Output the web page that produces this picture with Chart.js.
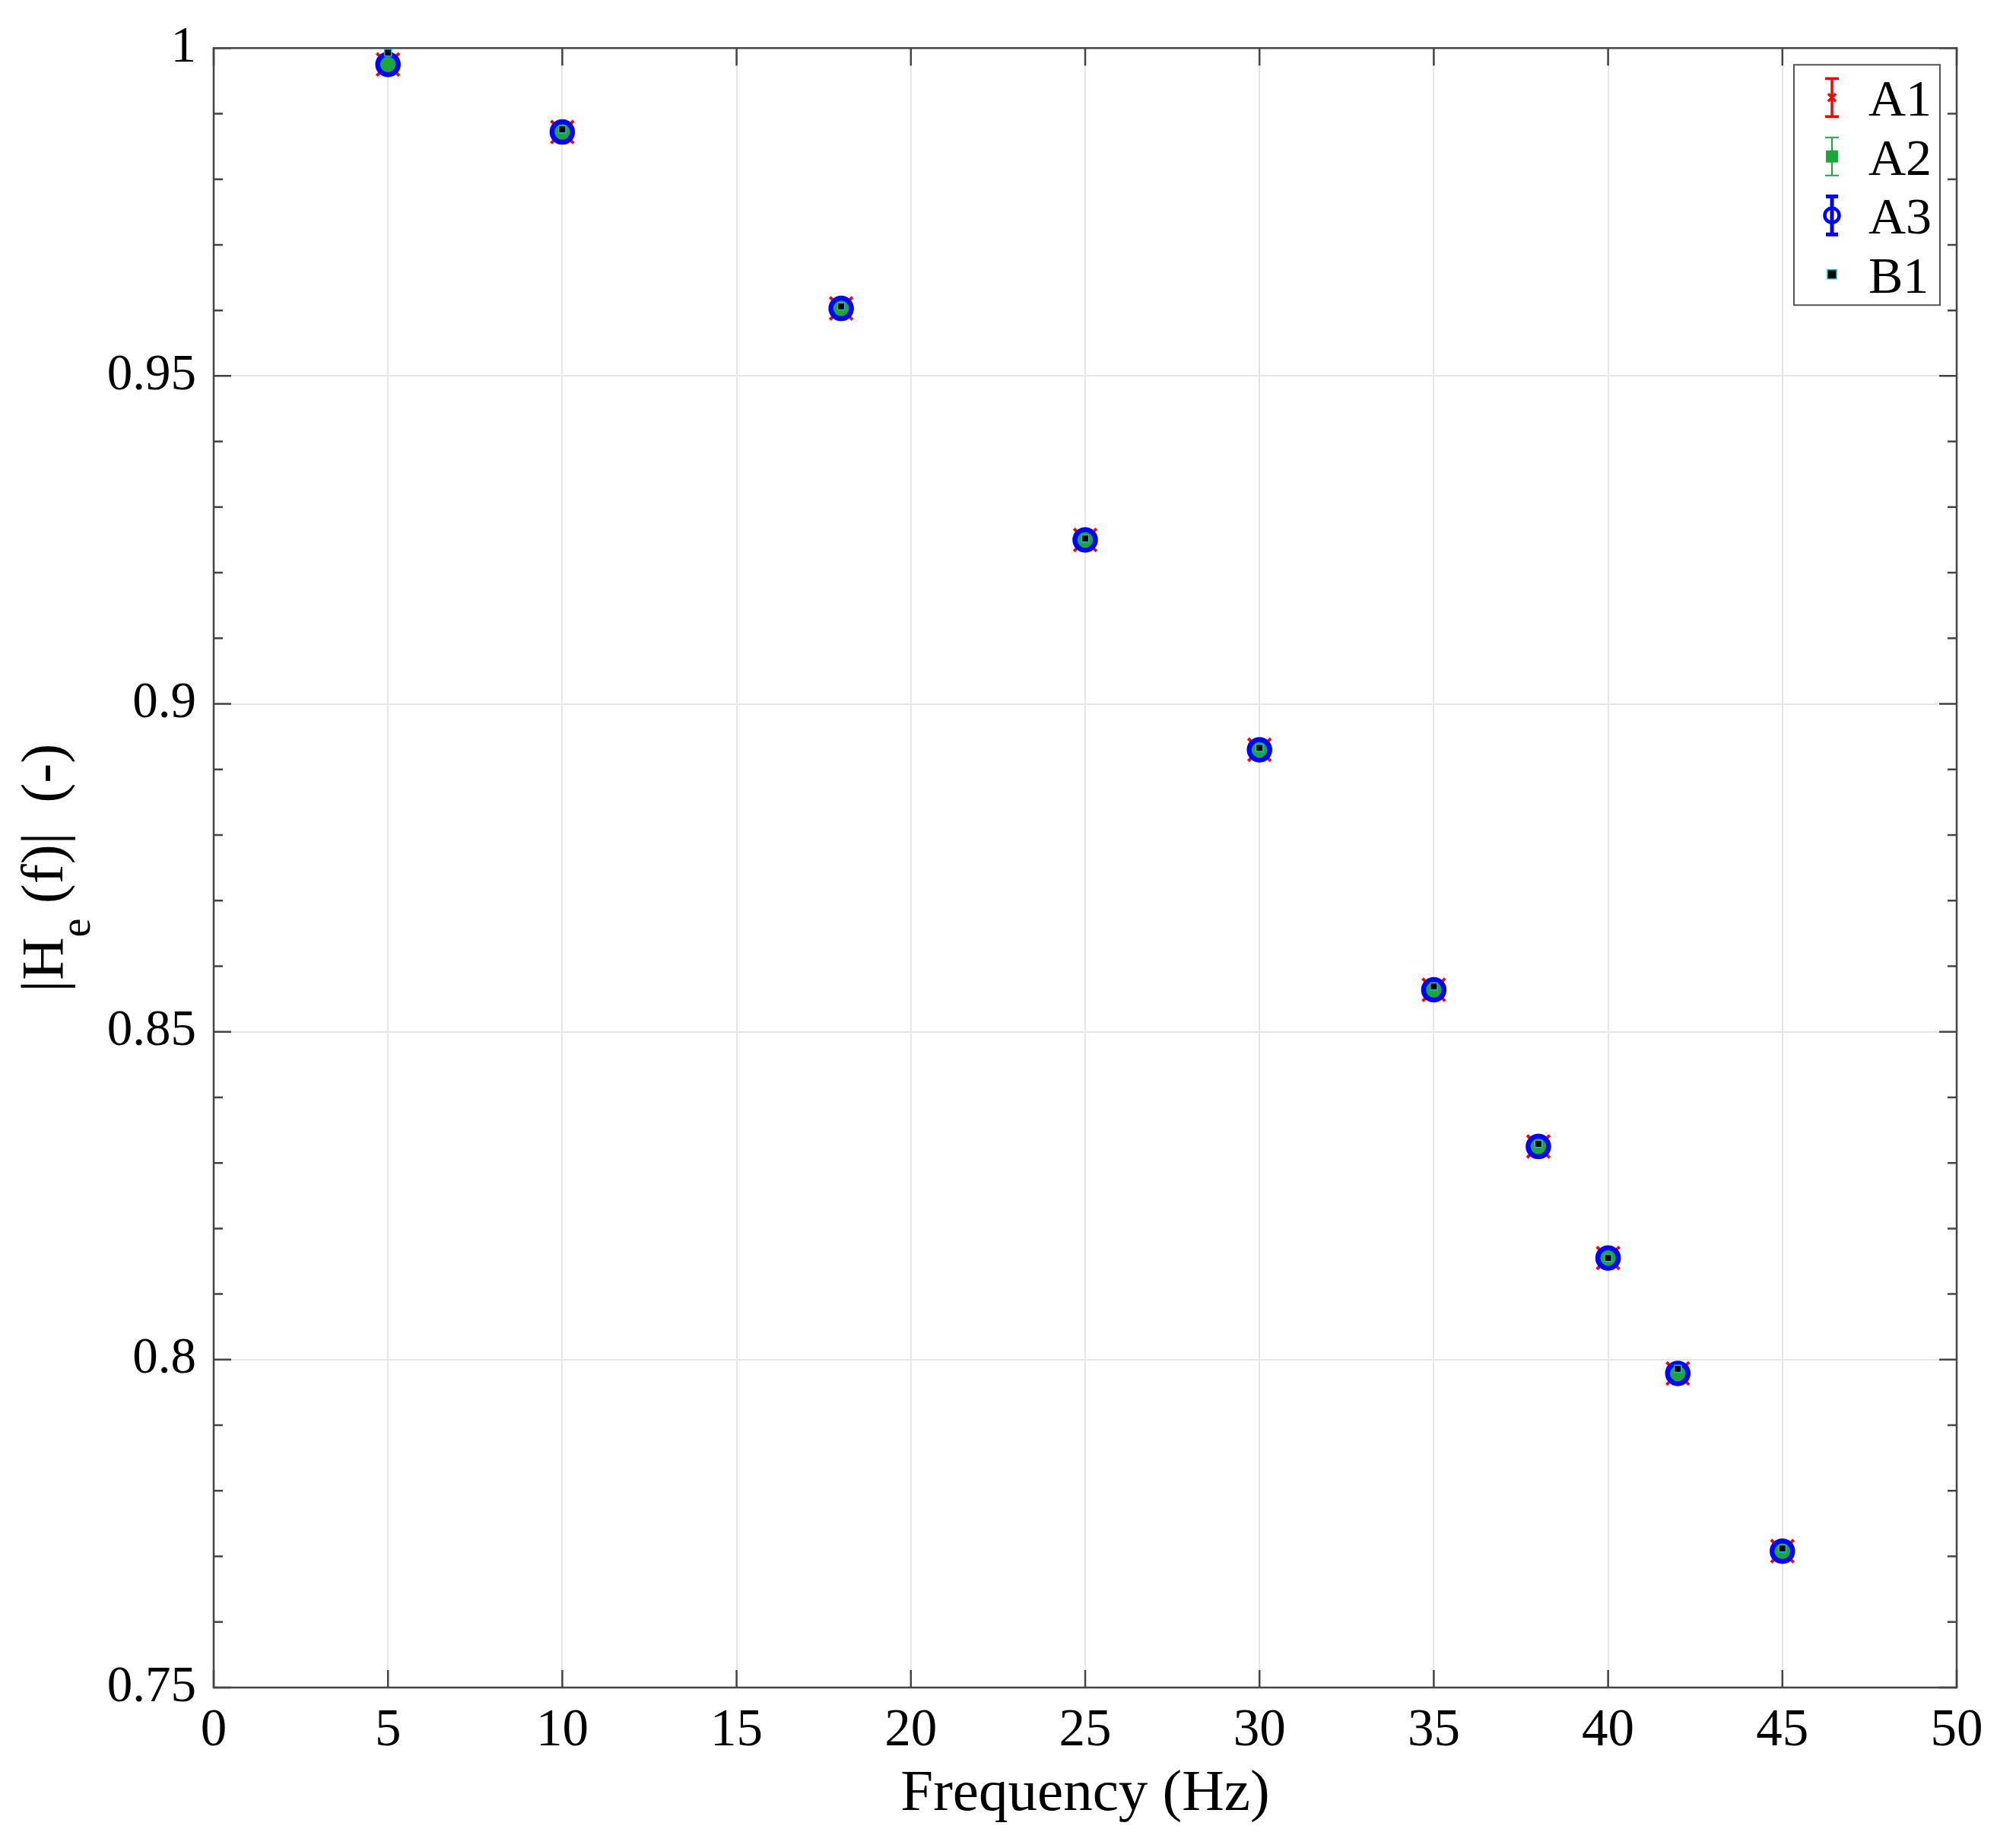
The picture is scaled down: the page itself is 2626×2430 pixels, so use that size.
<!DOCTYPE html>
<html>
<head>
<meta charset="utf-8">
<title>|He(f)| vs frequency</title>
<script src="https://cdn.jsdelivr.net/npm/chart.js@4.4.1/dist/chart.umd.min.js"></script>
<style>
  html, body { margin: 0; padding: 0; background: #fff; }
  #wrap { width: 2626px; height: 2430px; }
</style>
</head>
<body>
<div id="wrap"><canvas id="chart" width="2626" height="2430"></canvas></div>
<script>
// values
const freqs = [5, 10, 18, 25, 30, 35, 38, 40, 42, 45];
const a1 = [0.9975, 0.9872, 0.9603, 0.9250, 0.8930, 0.8564, 0.8325, 0.8155, 0.7979, 0.7708];
const a2 = [0.9975, 0.9872, 0.9603, 0.9250, 0.8930, 0.8564, 0.8325, 0.8155, 0.7979, 0.7708];
const a3 = [0.9975, 0.9872, 0.9603, 0.9250, 0.8930, 0.8564, 0.8325, 0.8155, 0.7979, 0.7708];
const b1 = [0.9993, 0.9876, 0.9606, 0.9252, 0.8933, 0.8569, 0.8329, 0.8155, 0.7986, 0.7712];

const xTicks = [0, 5, 10, 15, 20, 25, 30, 35, 40, 45, 50];
const yTicks = [0.75, 0.8, 0.85, 0.9, 0.95, 1];
const yTickLabels = ["0.75", "0.8", "0.85", "0.9", "0.95", "1"];

const FONT = "'Liberation Serif', 'Times New Roman', serif";
const AXIS = "#444";

function pts(ys) {
  return freqs.map((f, i) => ({ x: f, y: ys[i] }));
}

// frame with inward ticks on all four sides, y has minor ticks every 0.01
const framePlugin = {
  id: "frame",
  beforeDatasetsDraw(chart) {
    const { ctx, chartArea: a, scales: { x, y } } = chart;
    ctx.save();
    ctx.strokeStyle = AXIS;
    ctx.lineWidth = 2.5;
    ctx.strokeRect(a.left, a.top, a.right - a.left, a.bottom - a.top);
    ctx.beginPath();
    for (const v of xTicks) {
      const px = x.getPixelForValue(v);
      ctx.moveTo(px, a.bottom); ctx.lineTo(px, a.bottom - 23);
      ctx.moveTo(px, a.top); ctx.lineTo(px, a.top + 23);
    }
    for (let k = 75; k <= 100; k++) {
      const py = y.getPixelForValue(k / 100);
      const len = k % 5 === 0 ? 23 : 12;
      ctx.moveTo(a.left, py); ctx.lineTo(a.left + len, py);
      ctx.moveTo(a.right, py); ctx.lineTo(a.right - len, py);
    }
    ctx.stroke();
    ctx.restore();
  }
};

// y title with subscript, and the boxed legend with errorbar glyphs
const textPlugin = {
  id: "extras",
  afterDraw(chart) {
    const { ctx, chartArea: a } = chart;
    ctx.save();
    ctx.fillStyle = "#000";
    ctx.textBaseline = "alphabetic";
    ctx.textAlign = "left";
    const big = "78px " + FONT, small = "56px " + FONT;
    ctx.font = big;
    const w1 = ctx.measureText("|H").width;
    const w3 = ctx.measureText(" (f)|  (-)").width;
    ctx.font = small;
    const w2 = ctx.measureText("e").width;
    const total = w1 + w2 + w3;
    ctx.translate(82, (a.top + a.bottom) / 2 + total / 2);
    ctx.rotate(-Math.PI / 2);
    ctx.font = big;
    ctx.fillText("|H", 0, 0);
    ctx.font = small;
    ctx.fillText("e", w1, 36);
    ctx.font = big;
    ctx.fillText(" (f)|  (-)", w1 + w2, 0);
    ctx.restore();

    // legend
    const bx = a.right - 214, by = a.top + 22, bw = 192, bh = 316;
    ctx.save();
    ctx.fillStyle = "#fff";
    ctx.fillRect(bx, by, bw, bh);
    ctx.strokeStyle = "#555";
    ctx.lineWidth = 2;
    ctx.strokeRect(bx, by, bw, bh);
    const items = [
      { label: "A1", color: "#ff0000", lw: 3.5, cap: 9, mark: "x" },
      { label: "A2", color: "#1aa83c", lw: 2, cap: 9, mark: "sq" },
      { label: "A3", color: "#0000ff", lw: 5, cap: 8, mark: "o" },
      { label: "B1", color: "#000", lw: 0, cap: 0, mark: "dot" }
    ];
    items.forEach((it, i) => {
      const base = by + 67 + i * 77.5;
      const cx = bx + 50, cy = base - 24;
      ctx.strokeStyle = it.color;
      ctx.fillStyle = it.color;
      if (it.lw) {
        ctx.lineWidth = it.lw;
        ctx.beginPath();
        ctx.moveTo(cx, cy - 25); ctx.lineTo(cx, cy + 25);
        ctx.moveTo(cx - it.cap, cy - 25); ctx.lineTo(cx + it.cap, cy - 25);
        ctx.moveTo(cx - it.cap, cy + 25); ctx.lineTo(cx + it.cap, cy + 25);
        ctx.stroke();
      }
      if (it.mark === "x") {
        ctx.lineWidth = 3.5;
        ctx.beginPath();
        ctx.moveTo(cx - 5, cy - 5); ctx.lineTo(cx + 5, cy + 5);
        ctx.moveTo(cx + 5, cy - 5); ctx.lineTo(cx - 5, cy + 5);
        ctx.stroke();
      } else if (it.mark === "sq") {
        ctx.fillRect(cx - 8, cy - 8, 16, 16);
      } else if (it.mark === "o") {
        ctx.lineWidth = 4.5;
        ctx.beginPath();
        ctx.arc(cx, cy, 9.5, 0, Math.PI * 2);
        ctx.stroke();
      } else {
        ctx.fillStyle = "#000";
        ctx.fillRect(cx - 6, cy - 6, 12, 12);
        ctx.strokeStyle = "#2ab0d8";
        ctx.lineWidth = 1.5;
        ctx.strokeRect(cx - 6, cy - 6, 12, 12);
      }
      ctx.fillStyle = "#000";
      ctx.font = "68px " + FONT;
      ctx.fillText(it.label, bx + 98, base);
    });
    ctx.restore();
  }
};

Chart.defaults.font.family = FONT;
Chart.defaults.color = "#111";

new Chart(document.getElementById("chart"), {
  type: "scatter",
  data: {
    datasets: [
      { label: "A1", data: pts(a1), order: 4, pointStyle: "crossRot", pointRadius: 21,
        borderColor: "#ff0000", backgroundColor: "#ff0000", borderWidth: 4, clip: false },
      { label: "A2", data: pts(a2), order: 3, pointStyle: "rect", pointRadius: 14,
        borderColor: "#1aa83c", backgroundColor: "#1aa83c", borderWidth: 1, clip: false },
      { label: "A3", data: pts(a3), order: 2, pointStyle: "circle", pointRadius: 13.5,
        borderColor: "#0000ff", backgroundColor: "rgba(0,0,0,0)", borderWidth: 6.5, clip: false },
      { label: "B1", data: pts(b1), order: 1, pointStyle: "rect", pointRadius: 6.5,
        borderColor: "#2ab0d8", backgroundColor: "#000", borderWidth: 1.5, clip: false }
    ]
  },
  options: {
    responsive: false,
    devicePixelRatio: 1,
    animation: false,
    events: [],
    layout: { padding: { top: 56, right: 53, left: 0, bottom: 0 } },
    plugins: { legend: { display: false }, tooltip: { enabled: false } },
    scales: {
      x: {
        type: "linear",
        min: 0, max: 50,
        afterBuildTicks: s => { s.ticks = xTicks.map(v => ({ value: v })); },
        afterFit: s => { s.height = 211; },
        ticks: { font: { size: 69 }, color: "#000", padding: 16, maxRotation: 0, autoSkip: false,
                 callback: v => String(v) },
        grid: { color: "#e6e6e6", lineWidth: 2, drawTicks: false },
        border: { display: false },
        title: { display: true, text: "Frequency (Hz)", color: "#000", font: { size: 77 },
                 padding: { top: 0, bottom: 24 } }
      },
      y: {
        type: "linear",
        min: 0.75, max: 1,
        afterBuildTicks: s => { s.ticks = yTicks.map(v => ({ value: v })); },
        afterFit: s => { s.width = 281; },
        ticks: { font: { size: 67 }, color: "#000", padding: 23, autoSkip: false,
                 callback: (v, i) => yTickLabels[i] },
        grid: { color: "#e6e6e6", lineWidth: 2, drawTicks: false },
        border: { display: false }
      }
    }
  },
  plugins: [framePlugin, textPlugin]
});
</script>
</body>
</html>
